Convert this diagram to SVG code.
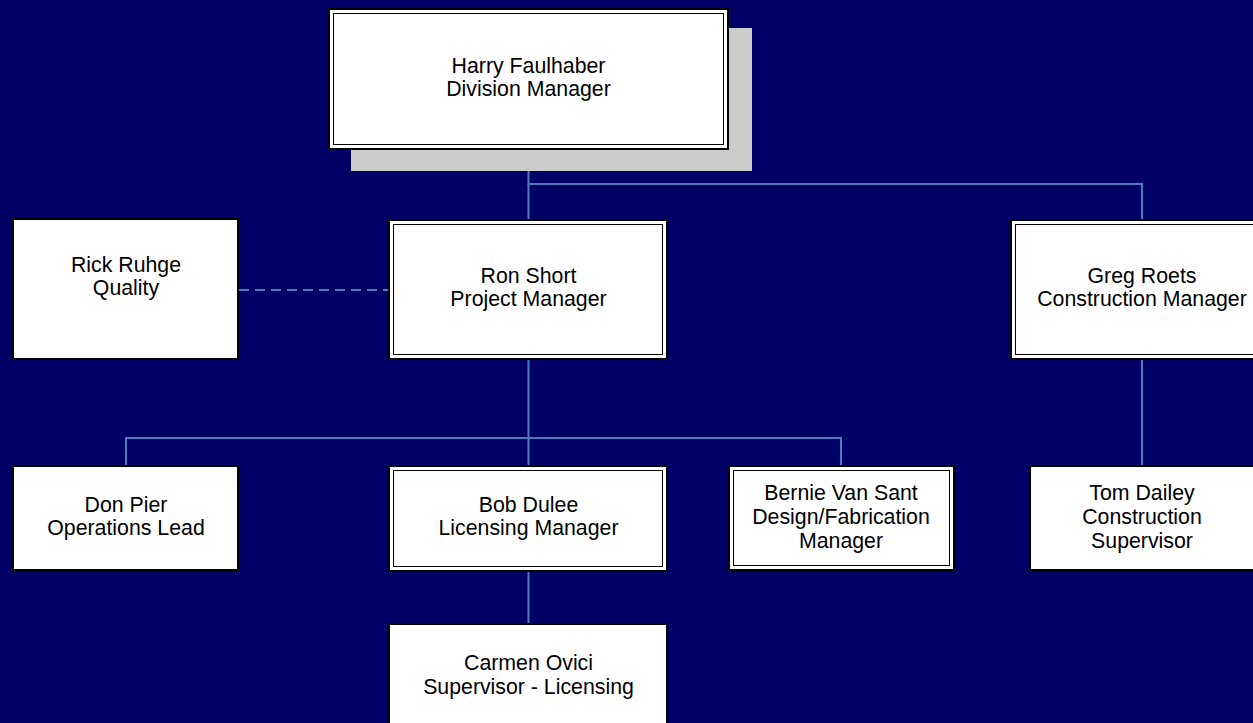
<svg xmlns="http://www.w3.org/2000/svg" width="1253" height="723" viewBox="0 0 1253 723">
<style>
.box{fill:#fff;stroke:#000;stroke-width:2}
.inner{fill:none;stroke:#000;stroke-width:1}
.t{font-family:"Liberation Sans",Arial,sans-serif;font-size:21.3px;fill:#000;text-anchor:middle}
.c{fill:none;stroke:#4a7ebb;stroke-width:2}
</style>
<rect width="1253" height="723" fill="#000066"/>
<g id="connectors">
<path class="c" d="M528.5 150V184H1142V219"/>
<path class="c" d="M528.5 184V219"/>
<path class="c" d="M239 290H389" stroke-dasharray="10 6"/>
<path class="c" d="M528.5 360V438M126 465V438H841V465M528.5 438V465"/>
<path class="c" d="M1142 360V465"/>
<path class="c" d="M528.5 572V623"/>
</g>
<g id="harry">
<rect x="351" y="28" width="401" height="143" fill="#cccccc"/>
<rect class="box" x="329" y="9" width="399" height="140"/>
<rect class="inner" x="333.5" y="13.5" width="390" height="131"/>
<text class="t" x="528.5" y="73">Harry Faulhaber</text>
<text class="t" x="528.5" y="96">Division Manager</text>
</g>
<g id="rick">
<rect class="box" x="13" y="219" width="225" height="140"/>
<text class="t" x="126" y="272">Rick Ruhge</text>
<text class="t" x="126" y="295">Quality</text>
</g>
<g id="ron">
<rect class="box" x="389" y="220" width="278" height="139"/>
<rect class="inner" x="393.5" y="224.5" width="269" height="130"/>
<text class="t" x="528.5" y="283">Ron Short</text>
<text class="t" x="528.5" y="306">Project Manager</text>
</g>
<g id="greg">
<rect class="box" x="1011" y="220" width="250" height="139"/>
<rect class="inner" x="1015.5" y="224.5" width="250" height="130"/>
<text class="t" x="1142" y="283">Greg Roets</text>
<text class="t" x="1142" y="306">Construction Manager</text>
</g>
<g id="don">
<rect class="box" x="13" y="466" width="225" height="104"/>
<text class="t" x="126" y="512">Don Pier</text>
<text class="t" x="126" y="535">Operations Lead</text>
</g>
<g id="bob">
<rect class="box" x="389" y="466" width="278" height="105"/>
<rect class="inner" x="393.5" y="470.5" width="269" height="96"/>
<text class="t" x="528.5" y="512">Bob Dulee</text>
<text class="t" x="528.5" y="535">Licensing Manager</text>
</g>
<g id="bernie">
<rect class="box" x="729" y="466" width="225" height="104"/>
<rect class="inner" x="733.5" y="470.5" width="216" height="95"/>
<text class="t" x="841" y="500">Bernie Van Sant</text>
<text class="t" x="841" y="524">Design/Fabrication</text>
<text class="t" x="841" y="548">Manager</text>
</g>
<g id="tom">
<rect class="box" x="1030" y="466" width="230" height="104"/>
<text class="t" x="1142" y="500">Tom Dailey</text>
<text class="t" x="1142" y="524">Construction</text>
<text class="t" x="1142" y="548">Supervisor</text>
</g>
<g id="carmen">
<rect class="box" x="389" y="624" width="278" height="110"/>
<text class="t" x="528.5" y="670">Carmen Ovici</text>
<text class="t" x="528.5" y="694">Supervisor - Licensing</text>
</g>
</svg>
